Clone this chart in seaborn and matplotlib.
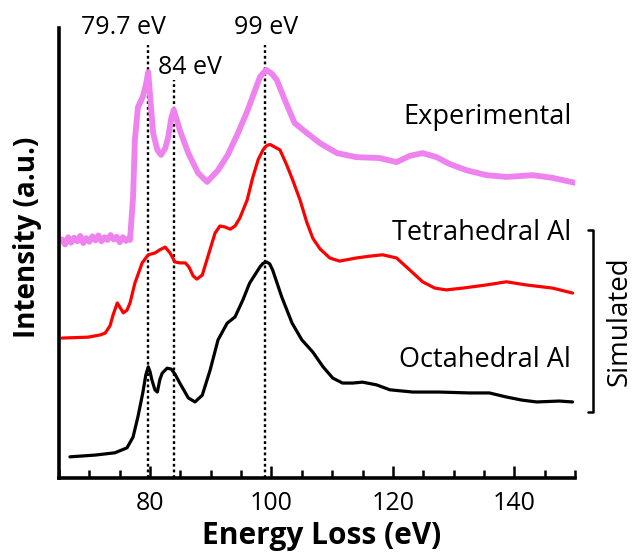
import matplotlib
matplotlib.use('Agg')
import matplotlib.ticker as ticker
import pandas as pd
import seaborn as sns
from matplotlib import pyplot as plt

# energy loss (eV) / intensity (a.u.)
EXP_EV = [65.5, 66.0, 66.5, 67.0, 67.5, 68.0, 68.5, 69.0, 69.5, 70.0, 70.5, 71.0, 71.5, 72.0,
          72.5, 73.0, 73.5, 74.0, 74.5, 75.0, 75.5, 76.0, 76.4, 76.7, 77.2, 77.5, 78.0, 78.8,
          79.3, 79.7, 80.0, 80.5, 81.2, 81.8, 82.5, 83.0, 83.5, 83.9, 84.4, 84.9, 86.3, 87.9,
          89.4, 91.2, 92.8, 94.5, 96.1, 97.3, 98.1, 99.1, 100.1, 100.9, 102.2, 103.8, 105.8,
          108.0, 110.8, 114.0, 117.8, 120.6, 122.8, 124.9, 127.2, 129.3, 132.1, 135.4, 138.7,
          140.9, 143.0, 146.3, 150.0]
EXP_I = [53.0, 51.9, 53.5, 52.3, 53.4, 52.6, 53.8, 52.2, 53.3, 52.5, 53.7, 52.8, 53.9, 52.6,
         53.5, 52.9, 54.0, 53.0, 53.6, 52.4, 53.5, 52.7, 53.2, 52.9, 62.4, 75.1, 82.4, 84.7,
         87.3, 90.2, 85.1, 76.7, 72.9, 71.8, 73.3, 75.8, 80.0, 81.8, 79.6, 77.3, 72.2, 67.8,
         65.8, 68.4, 71.8, 76.7, 81.8, 86.2, 89.1, 90.7, 89.8, 88.4, 84.0, 78.9, 76.7,
         74.4, 72.2, 71.3, 71.1, 70.2, 71.6, 72.2, 71.3, 69.8, 68.4, 67.3, 66.9,
         67.1, 67.3, 66.7, 65.6]

TET_EV = [65.5, 69.8, 71.8, 72.6, 73.4, 73.9, 74.6, 75.1, 75.6, 76.2, 76.7, 77.5, 78.7, 79.7,
          80.8, 81.6, 82.5, 83.3, 84.1, 84.9, 85.8, 86.4, 87.1, 87.7, 88.6, 89.5, 90.7, 91.5,
          92.3, 93.2, 94.0, 94.8, 96.0, 96.9, 97.8, 98.6, 99.0, 99.4, 99.8, 100.2, 101.4, 102.5,
          103.5, 104.7, 105.8, 106.8, 108.0, 109.6, 111.2, 114.0, 116.2, 118.3, 120.6, 122.8,
          124.9, 126.9, 128.8, 131.5, 135.4, 138.7, 142.0, 146.3, 149.6]
TET_I = [31.1, 31.3, 31.8, 32.2, 33.8, 36.2, 38.9, 37.8, 36.7, 37.3, 38.9, 43.3, 47.8, 49.6,
         50.0, 50.7, 51.3, 50.0, 48.0, 47.8, 47.8, 46.9, 44.9, 44.2, 45.1, 49.1, 54.4, 56.0,
         55.8, 55.3, 56.0, 57.8, 61.8, 66.7, 70.7, 72.9, 73.6, 74.0, 74.1, 73.8, 72.9, 69.6,
         66.2, 61.8, 56.9, 53.3, 50.9, 48.9, 48.2, 48.9, 49.3, 49.6, 48.9, 46.2,
         43.6, 42.2, 41.8, 42.2, 42.9, 43.6, 42.9, 42.2, 41.1]

OCT_EV = [66.8, 71.0, 74.2, 76.2, 77.2, 78.0, 78.8, 79.3, 79.7, 80.0, 80.3, 80.8, 81.2, 81.6,
          82.0, 82.8, 83.5, 84.1, 84.9, 86.3, 87.4, 88.6, 89.9, 91.2, 92.7, 94.0, 95.3, 96.4,
          98.1, 98.6, 99.2, 99.7, 100.2, 101.7, 103.4, 105.0, 106.8, 108.5, 110.1, 111.7, 113.4,
          115.0, 117.3, 119.5, 123.3, 127.7, 132.6, 135.9, 138.7, 141.3, 143.7, 147.4, 149.6]
OCT_I = [4.7, 5.1, 5.6, 6.7, 9.1, 13.6, 18.9, 22.9, 24.7, 23.6, 21.8, 19.6, 19.1, 21.8,
         23.3, 24.4, 24.2, 23.1, 21.1, 17.8, 16.9, 18.4, 24.0, 30.7, 34.4, 35.8, 39.6, 43.3,
         46.9, 47.7, 48.0, 47.6, 46.2, 40.2, 34.4, 30.7, 28.0, 24.7, 22.2, 21.1, 21.1,
         21.3, 20.7, 19.6, 19.1, 19.1, 18.9, 18.9, 18.0, 17.3, 16.9, 17.1, 16.9]

SERIES = ['Experimental', 'Tetrahedral Al', 'Octahedral Al']
COLORS = {'Experimental': '#ee82ee', 'Tetrahedral Al': '#ff0000', 'Octahedral Al': '#000000'}
WIDTHS = {'Experimental': 4.2, 'Tetrahedral Al': 2.3, 'Octahedral Al': 2.3}
LABEL_Y = {'Experimental': 80.2, 'Tetrahedral Al': 54.4, 'Octahedral Al': 26.2}

PEAKS = [79.7, 84.0, 99.0]
PEAK_TOP = [96.2, 88.4, 96.2]
PEAK_LABELS = ['79.7 eV', '84 eV', '99 eV']
PEAK_LABEL_POS = [(75.6, 100.0), (86.6, 91.3), (99.1, 100.0)]


def main():
    df = pd.concat([
        pd.DataFrame({'ev': EXP_EV, 'inten': EXP_I, 'kind': 'Experimental'}),
        pd.DataFrame({'ev': TET_EV, 'inten': TET_I, 'kind': 'Tetrahedral Al'}),
        pd.DataFrame({'ev': OCT_EV, 'inten': OCT_I, 'kind': 'Octahedral Al'}),
    ])

    sns.set_style('white')
    plt.rcParams['font.family'] = ['Open Sans', 'DejaVu Sans']
    plt.rcParams['text.color'] = 'black'
    plt.rcParams['axes.labelcolor'] = 'black'
    plt.rcParams['xtick.color'] = 'black'

    fig = plt.figure(figsize=(6.32, 5.54), dpi=100)
    ax = fig.add_axes([59 / 632, 1 - 478 / 554, 516 / 632, 450 / 554])

    for name in SERIES:
        sub = df[df.kind == name]
        sns.lineplot(data=sub, x='ev', y='inten', ax=ax, color=COLORS[name],
                     linewidth=WIDTHS[name], sort=False, estimator=None,
                     solid_capstyle='round', solid_joinstyle='round')
        ax.text(149.4, LABEL_Y[name], name, ha='right', va='center', fontsize=19.5)

    ax.set_xlim(65, 150)
    ax.set_ylim(0, 100)

    # dotted guides for the peaks
    for x, top in zip(PEAKS, PEAK_TOP):
        ax.plot([x, x], [0, top], color='black', linewidth=1.7, linestyle=(0, (1.2, 1.2)),
                clip_on=False, zorder=1)
    for lbl, (x, y) in zip(PEAK_LABELS, PEAK_LABEL_POS):
        ax.text(x, y, lbl, ha='center', va='center', fontsize=18, clip_on=False)

    # bracket for the simulated spectra
    ax.plot([152.2, 152.9, 152.9, 152.2], [55.1, 55.1, 14.7, 14.7], color='black',
            linewidth=1.8, clip_on=False)
    ax.text(157.3, 34.9, 'Simulated', rotation=90, ha='center', va='center', fontsize=20,
            clip_on=False)

    for s in ['top', 'right']:
        ax.spines[s].set_visible(False)
    for s in ['left', 'bottom']:
        ax.spines[s].set_linewidth(2.6)
        ax.spines[s].set_color('black')

    ax.xaxis.set_major_locator(ticker.MultipleLocator(20))
    ax.xaxis.set_minor_locator(ticker.MultipleLocator(5))
    ax.tick_params(axis='x', which='major', direction='in', length=9, width=1.8,
                   labelsize=18, pad=9, bottom=True)
    ax.tick_params(axis='x', which='minor', direction='in', length=6, width=1.8, bottom=True)
    ax.set_yticks([])

    ax.set_xlabel('Energy Loss (eV)', fontsize=21.5, fontweight='bold')
    ax.set_ylabel('Intensity (a.u.)', fontsize=20, fontweight='bold')
    ax.xaxis.set_label_coords(0.508, -0.095)
    ax.yaxis.set_label_coords(-0.033, 0.535)

    fig.savefig('out.png', dpi=100)


main()
